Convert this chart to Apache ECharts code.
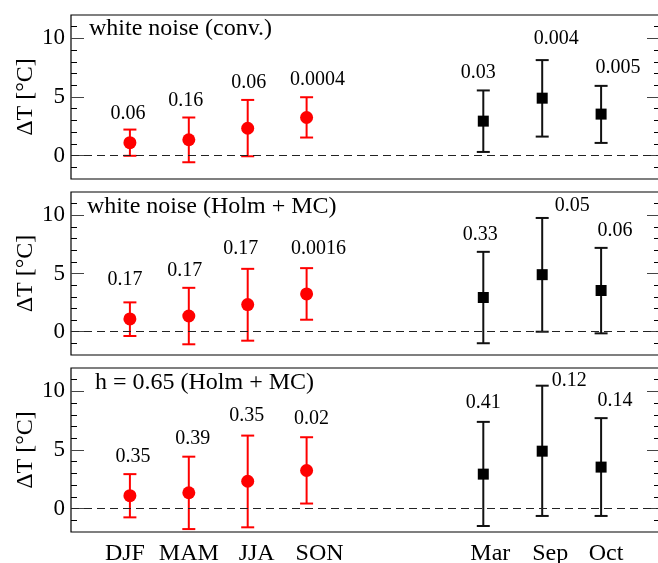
<!DOCTYPE html>
<html>
<head>
<meta charset="utf-8">
<script src="https://cdn.jsdelivr.net/npm/echarts@6/dist/echarts.min.js"></script>
<style>
  html, body { margin: 0; padding: 0; background: #fff; }
  #chart { width: 658px; height: 563px; }
</style>
</head>
<body>
<div id="chart"></div>
<script>
// categories and their x positions
const seasons = ['DJF', 'MAM', 'JJA', 'SON']
const seasonX = [1, 2, 3, 4]
const months = ['Mar', 'Sep', 'Oct']
const monthX = [7, 8, 9]

// mean warming, same in every panel
const seasonMean = [1.1, 1.35, 2.33, 3.25]
const monthMean = [2.94, 4.9, 3.54]

// panel titles
const panelTitles = ['white noise (conv.)', 'white noise (Holm + MC)', 'h = 0.65 (Holm + MC)']

// error bar ends per panel
const seasonLow = [
  [-0.02, -0.57, -0.06, 1.54],
  [-0.37, -1.08, -0.77, 1.03],
  [-0.75, -1.75, -1.6, 0.43]
]
const seasonHigh = [
  [2.22, 3.25, 4.75, 4.98],
  [2.52, 3.77, 5.4, 5.46],
  [2.94, 4.43, 6.23, 6.09]
]
const monthLow = [
  [0.31, 1.62, 1.08],
  [-0.99, 0.0, -0.14],
  [-1.49, -0.63, -0.63]
]
const monthHigh = [
  [5.56, 8.15, 5.95],
  [6.86, 9.77, 7.2],
  [7.4, 10.49, 7.72]
]

// p-values written above the bars
const seasonP = [
  ['0.06', '0.16', '0.06', '0.0004'],
  ['0.17', '0.17', '0.17', '0.0016'],
  ['0.35', '0.39', '0.35', '0.02']
]
const monthP = [
  ['0.03', '0.004', '0.005'],
  ['0.33', '0.05', '0.06'],
  ['0.41', '0.12', '0.14']
]

// y ticks
const majorTicks = [0, 5, 10]
const minorTicks = [-1, 1, 2, 3, 4, 6, 7, 8, 9, 11]

// ---- layout / style ----
const FONT = '"Liberation Serif", "DejaVu Serif", serif'
const grids = [
  { top: 15, height: 164 },
  { top: 192, height: 163 },
  { top: 368, height: 164 }
]
const titlePos = [[89, 17], [87, 195], [95, 371]]
// label offsets [dx, dy] from the top of each bar, in pixels
const seasonLabelOff = [
  [[-2, -16], [-3, -17], [1, -17], [11, -17]],
  [[-5, -23], [-4, -17], [-7, -20], [12, -19]],
  [[3, -17], [4, -18], [-1, -20], [5, -18]]
]
const monthLabelOff = [
  [[-5, -18], [14, -21], [17, -18]],
  [[-3, -17], [30, -12], [14, -17]],
  [[0, -19], [27, -5], [14, -17]]
]
// horizontal shift of the bottom tick names
const nameShift = [-5, 0, 9, 13, 7, 8, 5]

const allX = seasonX.concat(monthX)
const allNames = seasons.concat(months)

const xRich = {}
nameShift.forEach((d, k) => {
  xRich['n' + k] = {
    fontSize: 24,
    fontFamily: FONT,
    color: '#000',
    padding: d >= 0 ? [0, 0, 0, 2 * d] : [0, -2 * d, 0, 0]
  }
})

function errRender(color, labels, offs) {
  return function (params, api) {
    const x = api.value(0)
    const lo = api.coord([x, api.value(2)])
    const hi = api.coord([x, api.value(3)])
    const off = offs[params.dataIndex]
    const cap = 6.5
    const style = { stroke: color, lineWidth: 2 }
    return {
      type: 'group',
      children: [
        { type: 'line', shape: { x1: lo[0], y1: lo[1], x2: hi[0], y2: hi[1] }, style: style },
        { type: 'line', shape: { x1: lo[0] - cap, y1: lo[1], x2: lo[0] + cap, y2: lo[1] }, style: style },
        { type: 'line', shape: { x1: hi[0] - cap, y1: hi[1], x2: hi[0] + cap, y2: hi[1] }, style: style },
        {
          type: 'text',
          x: hi[0] + off[0],
          y: hi[1] + off[1],
          style: {
            text: labels[params.dataIndex],
            fill: '#000',
            fontSize: 20,
            fontFamily: FONT,
            align: 'center',
            verticalAlign: 'middle'
          }
        }
      ]
    }
  }
}

const option = {
  animation: false,
  backgroundColor: '#fff',
  title: panelTitles.map((t, i) => ({
    text: t,
    left: titlePos[i][0],
    top: titlePos[i][1],
    padding: 0,
    textStyle: { fontSize: 24, fontWeight: 'normal', fontFamily: FONT, color: '#000' }
  })),
  grid: grids.map(g => ({
    left: 71,
    right: -2,
    top: g.top,
    height: g.height,
    outerBoundsMode: 'none',
    containLabel: false,
    show: true,
    borderColor: '#000',
    borderWidth: 1.2
  })),
  xAxis: grids.map((g, i) => ({
    gridIndex: i,
    type: 'value',
    min: 0,
    max: 10,
    axisLine: { show: false },
    axisTick: { show: false },
    splitLine: { show: false },
    axisLabel: {
      show: i === 2,
      customValues: allX,
      formatter: v => {
        const k = allX.indexOf(v)
        return k < 0 ? '' : '{n' + k + '|' + allNames[k] + '}'
      },
      rich: xRich,
      fontSize: 24,
      fontFamily: FONT,
      color: '#000',
      margin: 10
    }
  })),
  yAxis: [],
  series: []
}

grids.forEach((g, i) => {
  const base = {
    gridIndex: i,
    type: 'value',
    min: -2,
    max: 12,
    axisLine: { show: false },
    splitLine: { show: false }
  }
  // left major with labels and name
  option.yAxis.push(Object.assign({}, base, {
    position: 'left',
    axisTick: { inside: true, length: 13, customValues: majorTicks, lineStyle: { color: '#444', width: 1 } },
    axisLabel: { customValues: majorTicks, fontSize: 23, fontFamily: FONT, color: '#000', margin: 6 },
    name: 'ΔT [°C]',
    nameLocation: 'middle',
    nameGap: 33,
    nameMoveOverlap: false,
    nameTextStyle: { fontSize: 24, fontFamily: FONT, color: '#000' }
  }))
  // left minor
  option.yAxis.push(Object.assign({}, base, {
    position: 'left',
    axisTick: { inside: true, length: 6, customValues: minorTicks, lineStyle: { color: '#000', width: 1 } },
    axisLabel: { show: false }
  }))
  // right major
  option.yAxis.push(Object.assign({}, base, {
    position: 'right',
    axisTick: { inside: true, length: 13, customValues: majorTicks, lineStyle: { color: '#444', width: 1 } },
    axisLabel: { show: false }
  }))
  // right minor
  option.yAxis.push(Object.assign({}, base, {
    position: 'right',
    axisTick: { inside: true, length: 6, customValues: minorTicks, lineStyle: { color: '#000', width: 1 } },
    axisLabel: { show: false }
  }))

  const yi = i * 4
  option.series.push({
    type: 'custom',
    xAxisIndex: i,
    yAxisIndex: yi,
    renderItem: errRender('#ff0000', seasonP[i], seasonLabelOff[i]),
    data: seasonX.map((x, k) => [x, seasonMean[k], seasonLow[i][k], seasonHigh[i][k]]),
    z: 3
  })
  option.series.push({
    type: 'custom',
    xAxisIndex: i,
    yAxisIndex: yi,
    renderItem: errRender('#111', monthP[i], monthLabelOff[i]),
    data: monthX.map((x, k) => [x, monthMean[k], monthLow[i][k], monthHigh[i][k]]),
    z: 3
  })
  option.series.push({
    type: 'scatter',
    xAxisIndex: i,
    yAxisIndex: yi,
    symbol: 'circle',
    symbolSize: 13,
    itemStyle: { color: '#ff0000', opacity: 1 },
    data: seasonX.map((x, k) => [x, seasonMean[k]]),
    z: 4,
    markLine: {
      silent: true,
      symbol: 'none',
      label: { show: false },
      lineStyle: { color: '#222', type: [8, 5], width: 1 },
      data: [{ yAxis: 0 }]
    }
  })
  option.series.push({
    type: 'scatter',
    xAxisIndex: i,
    yAxisIndex: yi,
    symbol: 'rect',
    symbolSize: 11,
    itemStyle: { color: '#000', opacity: 1 },
    data: monthX.map((x, k) => [x, monthMean[k]]),
    z: 4
  })
})

const myChart = echarts.init(document.getElementById('chart'))
myChart.setOption(option)
</script>
</body>
</html>
